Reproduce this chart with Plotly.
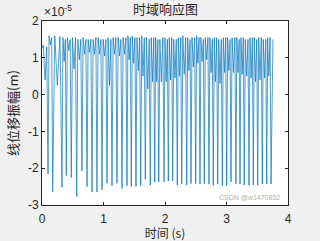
import plotly.graph_objects as go

# ---- data (displacement in units of 1e-5 m) ----
scale = 1e-5
start_t = [0.0, 0.02, 0.05, 0.077]
start_v = [1.25, 1.35, 0.40, 1.30]

trough_t = [0.098, 0.174, 0.325, 0.395, 0.476, 0.564, 0.650, 0.732, 0.813, 0.894,
            0.976, 1.057, 1.138, 1.220, 1.301, 1.382, 1.452, 1.528, 1.605, 1.680,
            1.761, 1.833, 1.898, 1.984, 2.054, 2.125, 2.200, 2.272, 2.353, 2.423,
            2.499, 2.569, 2.639, 2.715, 2.785, 2.857, 2.932, 3.003, 3.073, 3.154,
            3.220, 3.289, 3.366, 3.436, 3.507, 3.582, 3.654, 3.724]
trough_v = [-2.16, -2.64, -2.52, -2.20, -2.25, -2.77, -2.08, -2.50, -2.65, -2.65,
            -2.59, -2.41, -2.48, -2.41, -2.55, -2.48, -2.50, -2.50, -2.48, -2.30,
            -2.46, -2.38, -2.38, -2.37, -2.35, -2.35, -2.46, -2.43, -2.46, -2.42,
            -2.42, -2.43, -2.42, -2.43, -2.47, -2.43, -2.47, -2.48, -2.37, -2.42,
            -2.43, -2.46, -2.46, -2.46, -2.46, -2.43, -2.43, -2.43]
peak_a_v = [1.60, 1.60, 1.55, 1.55, 1.55, 1.50, 1.55, 1.50, 1.50, 1.55,
            1.50, 1.55, 1.55, 1.55, 1.55, 1.60, 1.60, 1.55, 1.60, 1.55,
            1.55, 1.55, 1.50, 1.55, 1.55, 1.50, 1.55, 1.60, 1.55, 1.55,
            1.60, 1.55, 1.55, 1.55, 1.55, 1.50, 1.55, 1.55, 1.55, 1.55,
            1.55, 1.50, 1.55, 1.55, 1.55, 1.50, 1.55]
mid_v = [1.35, 0.25, 0.90, 1.20, 0.70, 0.95, 1.10, 1.15, 1.10, 1.10,
         1.05, 0.25, 1.10, 1.05, 1.10, 0.95, 0.85, 0.65, 0.50, 0.15,
         0.35, 0.35, 0.35, 0.35, 0.40, 0.45, 0.50, 0.55, 0.65, 0.75,
         0.85, 0.90, 0.95, 0.60, 0.35, 0.30, 0.60, 0.65, 0.60, 0.60,
         0.55, 0.50, 0.45, 0.35, 0.40, 0.45, 0.50]
peak_b_v = [1.55, 1.58, 1.50, 1.50, 1.55, 1.50, 1.50, 1.50, 1.55, 1.50,
            1.50, 1.50, 1.55, 1.50, 1.55, 1.55, 1.55, 1.55, 1.55, 1.50,
            1.55, 1.50, 1.55, 1.50, 1.55, 1.50, 1.55, 1.55, 1.50, 1.55,
            1.55, 1.50, 1.55, 1.50, 1.55, 1.50, 1.55, 1.50, 1.55, 1.50,
            1.55, 1.50, 1.55, 1.50, 1.55, 1.50, 1.55]
end_t = [3.756]
end_v = [1.50]
cycle_phase = [0.22, 0.50, 0.78]   # position of peak A / mid dip / peak B inside a cycle

x_ticks = [0, 1, 2, 3, 4]
y_ticks = [-3, -2, -1, 0, 1, 2]

# ---- build the polyline from the read values ----
t = list(start_t)
v = list(start_v)
for i in range(len(trough_t)):
    t.append(trough_t[i]); v.append(trough_v[i])
    if i < len(trough_t) - 1:
        p = trough_t[i + 1] - trough_t[i]
        for ph, val in zip(cycle_phase, (peak_a_v[i], mid_v[i], peak_b_v[i])):
            t.append(trough_t[i] + ph * p); v.append(val)
t += end_t
v += end_v
v = [a * scale for a in v]

fig = go.Figure()
fig.add_trace(go.Scatter(x=t, y=v, mode="lines",
                         line=dict(color="#0072BD", width=0.7), hoverinfo="skip"))

axis_common = dict(showgrid=False, zeroline=False, showline=True, mirror="ticks",
                   linecolor="#262626", linewidth=1, ticks="inside", ticklen=3,
                   tickcolor="#262626", automargin=False,
                   tickfont=dict(family="Liberation Sans, Arial", size=12, color="#262626"))

fig.update_layout(
    width=320, height=241,
    margin=dict(l=42, r=32, t=21, b=36),
    paper_bgcolor="#f0f0f0", plot_bgcolor="white",
    showlegend=False,
    xaxis=dict(range=[0, 4], tickvals=x_ticks, ticktext=[str(a) for a in x_ticks],
               ticklabelstandoff=3,
               title=dict(text="时间 (s)", standoff=10,
                          font=dict(family="Noto Sans CJK SC", size=12, color="#262626")),
               **axis_common),
    yaxis=dict(range=[-3 * scale, 2 * scale], tickvals=[a * scale for a in y_ticks],
               ticktext=[str(a) for a in y_ticks],
               title=dict(text="线位移振幅(m)", standoff=6,
                          font=dict(family="Noto Sans CJK SC", size=13, color="#262626")),
               **axis_common),
    annotations=[
        dict(text="时域响应图", xref="paper", yref="paper", x=0.5, y=1.0, yshift=1,
             xanchor="center", yanchor="bottom", showarrow=False,
             font=dict(family="Noto Sans CJK SC", size=13, color="#262626")),
        dict(text="×10<sup>-5</sup>", xref="paper", yref="paper", x=0.0, y=1.0,
             xanchor="left", yanchor="bottom", showarrow=False,
             font=dict(family="Liberation Sans, Arial", size=12, color="#262626")),
        dict(text="CSDN @w1470852", xref="paper", yref="paper", x=0.975, y=0.0,
             xanchor="right", yanchor="bottom", yshift=2, showarrow=False,
             font=dict(family="Liberation Sans, Arial", size=7, color="#b0b0b0")),
    ],
)

fig.write_html("out.html")
